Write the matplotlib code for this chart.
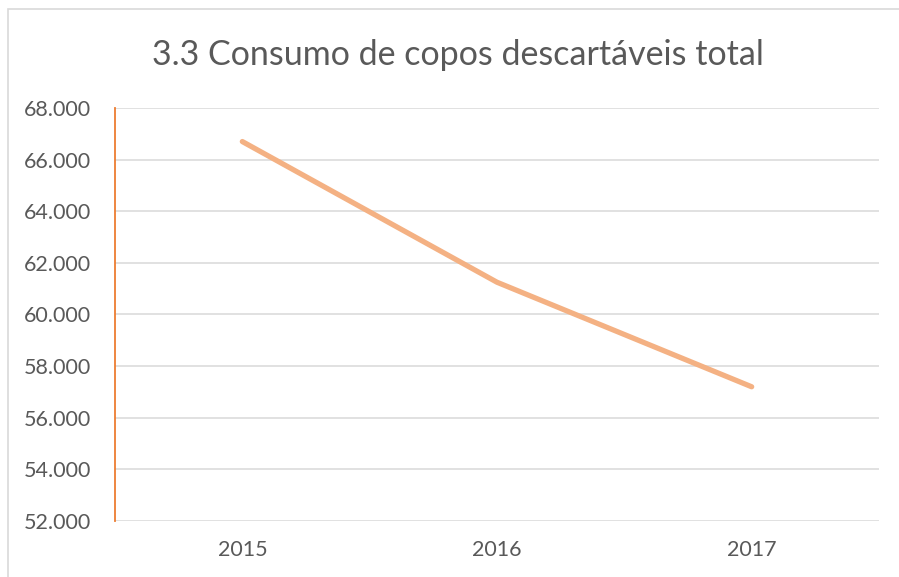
import matplotlib
matplotlib.use("Agg")
import matplotlib.pyplot as plt
from matplotlib.patches import Rectangle
from matplotlib.ticker import FuncFormatter

# ----------------- DATA -----------------
years = ["2015", "2016", "2017"]
consumo = [66700, 61250, 57200]
y_ticks = [52000, 54000, 56000, 58000, 60000, 62000, 64000, 66000, 68000]

plt.rcParams["font.family"] = ["Lato", "DejaVu Sans"]

W, H = 899, 577
fig = plt.figure(figsize=(W / 100, H / 100), dpi=100)

# chart frame (light grey border, open at right/bottom like the crop)
fig.patches.append(Rectangle((8 / W, -0.1), 1.2, 1 - 9 / H + 0.1,
                             transform=fig.transFigure, fill=False,
                             edgecolor="#D9D9D9", linewidth=1.2))

ax = fig.add_axes([115 / W, 1 - 521 / H, (879 - 115) / W, (521 - 108) / H])

x = range(len(years))
ax.plot(x, consumo, color="#F4B183", linewidth=3.8, solid_capstyle="round",
        solid_joinstyle="round", zorder=3)

ax.set_xlim(-0.5, len(years) - 0.5)
ax.set_ylim(y_ticks[0], y_ticks[-1])
ax.set_xticks(list(x))
ax.set_xticklabels(years)
ax.set_yticks(y_ticks)
ax.yaxis.set_major_formatter(FuncFormatter(lambda v, p: f"{int(v):,}".replace(",", ".")))

ax.grid(axis="y", color="#D9D9D9", linewidth=1.1)
ax.set_axisbelow(True)
for s in ["top", "right", "bottom"]:
    ax.spines[s].set_visible(False)
ax.spines["left"].set_color("#ED7D31")
ax.spines["left"].set_linewidth(1.3)

ax.tick_params(axis="both", length=0, colors="#595959", labelsize=15.5)
ax.tick_params(axis="y", pad=17)
ax.tick_params(axis="x", pad=14)

fig.text(458 / W, 1 - 55 / H, "3.3 Consumo de copos descartáveis total",
         ha="center", va="center", fontsize=24.5, color="#595959")

fig.savefig("out.png", dpi=100)
